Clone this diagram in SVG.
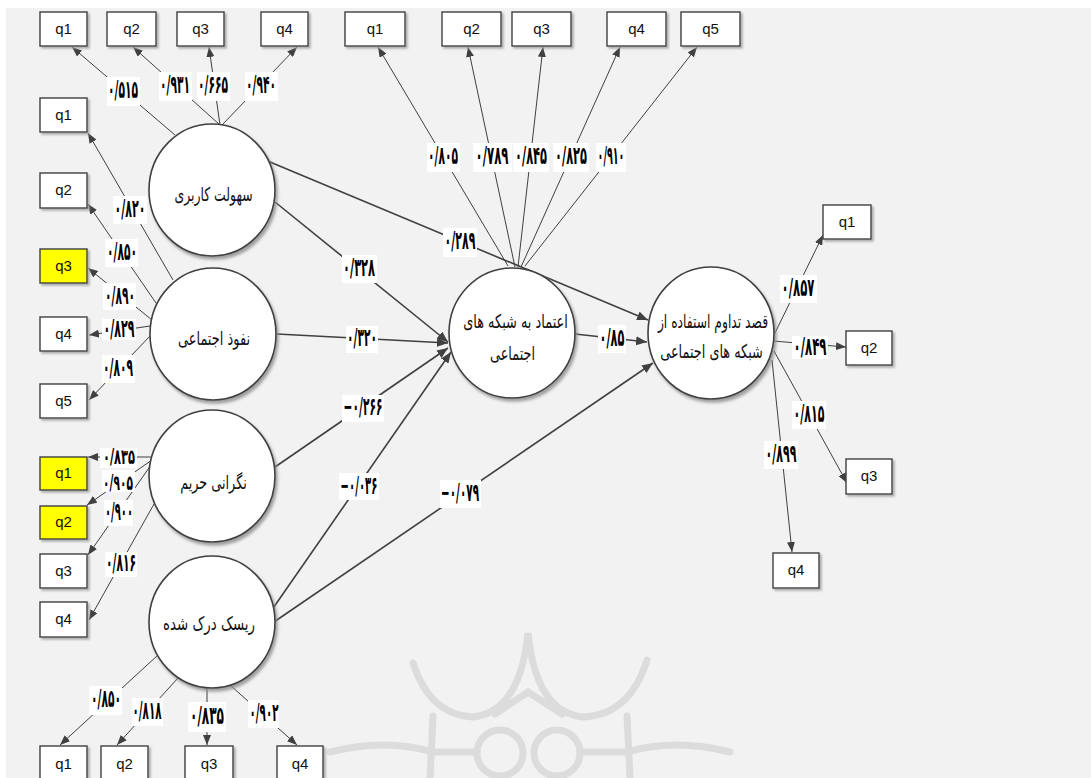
<svg xmlns="http://www.w3.org/2000/svg" width="1091" height="778" viewBox="0 0 1091 778">
<defs>
<style>
.bg{fill:#f2f2f2}
.box rect{fill:#ffffff;stroke:#404040;stroke-width:1.4;filter:url(#sh)}
.box.y rect{fill:#ffff00}
.box text{font-family:"Liberation Sans Narrow","Liberation Sans",sans-serif;font-size:15px;fill:#111;text-anchor:middle}
.lv ellipse{fill:#ffffff;stroke:#404040;stroke-width:1.6;filter:url(#sh2)}
.lv text{font-family:"DejaVu Sans",sans-serif;font-size:19px;fill:#111;text-anchor:middle}
.ind{stroke:#404040;stroke-width:1;fill:none;marker-end:url(#ah)}
.str{stroke:#404040;stroke-width:1.6;fill:none;marker-end:url(#ah2)}
.lb rect{fill:#ffffff}
.lb text{font-family:"DejaVu Sans Condensed","DejaVu Sans",sans-serif;font-weight:bold;font-size:25px;fill:#000;text-anchor:middle;direction:ltr}
.lb text.sm{font-size:21px}
.wm{fill:none;stroke:#dcdcdc;stroke-width:7;stroke-linecap:round}
</style>
<filter id="sh" x="-20%" y="-20%" width="150%" height="160%"><feDropShadow dx="2" dy="2" stdDeviation="1.2" flood-color="#9a9a9a" flood-opacity="0.8"/></filter>
<filter id="sh2" x="-10%" y="-10%" width="130%" height="130%"><feDropShadow dx="2" dy="3" stdDeviation="1.5" flood-color="#8a8a8a" flood-opacity="0.8"/></filter>
<marker id="ah" markerWidth="10" markerHeight="8" refX="10" refY="4" orient="auto" markerUnits="userSpaceOnUse"><path d="M0,0 L10,4 L0,8 z" fill="#404040"/></marker>
<marker id="ah2" markerWidth="11" markerHeight="9" refX="11" refY="4.5" orient="auto" markerUnits="userSpaceOnUse"><path d="M0,0 L11,4.5 L0,9 z" fill="#404040"/></marker>
</defs>
<rect x="0" y="0" width="1091" height="778" fill="#ffffff"/>
<rect class="bg" x="6" y="8" width="1085" height="770"/>
<g id="watermark">
<path class="wm" d="M413,663 Q430,715 473,717 Q520,712 528,633 Q536,712 583,717 Q630,715 647,660"/>
<path class="wm" d="M495,714 L528,692 L562,714"/>
<circle class="wm" cx="500" cy="753" r="23"/>
<circle class="wm" cx="557" cy="753" r="23"/>
<path class="wm" d="M433,716 L430,778 M627,716 L630,778"/>
<path class="wm" d="M330,752 Q385,738 433,752 L477,752 M730,752 Q675,738 627,752 L580,752"/>
</g>
<g id="connectors">
<line class="ind" x1="175" y1="135" x2="72" y2="47"/>
<line class="ind" x1="220" y1="125" x2="133" y2="47"/>
<line class="ind" x1="220" y1="125" x2="209" y2="47"/>
<line class="ind" x1="222" y1="125" x2="297" y2="47"/>
<line class="ind" x1="173" y1="280" x2="88" y2="133"/>
<line class="ind" x1="156" y1="303" x2="88" y2="204"/>
<line class="ind" x1="152" y1="320" x2="88" y2="268"/>
<line class="ind" x1="150" y1="326" x2="89" y2="335"/>
<line class="ind" x1="150" y1="336" x2="89" y2="400"/>
<line class="ind" x1="152" y1="457" x2="88" y2="457"/>
<line class="ind" x1="152" y1="460" x2="87" y2="505"/>
<line class="ind" x1="151" y1="465" x2="88" y2="555"/>
<line class="ind" x1="154" y1="504" x2="89" y2="620"/>
<line class="ind" x1="158" y1="655" x2="60" y2="745"/>
<line class="ind" x1="178" y1="678" x2="117" y2="745"/>
<line class="ind" x1="207" y1="688" x2="207" y2="745"/>
<line class="ind" x1="230" y1="685" x2="297" y2="745"/>
<line class="ind" x1="508" y1="266" x2="378" y2="47"/>
<line class="ind" x1="515" y1="267" x2="468" y2="47"/>
<line class="ind" x1="518" y1="267" x2="543" y2="47"/>
<line class="ind" x1="521" y1="267" x2="620" y2="47"/>
<line class="ind" x1="525" y1="266" x2="697" y2="47"/>
<line class="ind" x1="773" y1="337" x2="823" y2="235"/>
<line class="ind" x1="773" y1="341" x2="846" y2="347"/>
<line class="ind" x1="774" y1="351" x2="847" y2="483"/>
<line class="ind" x1="772" y1="360" x2="792" y2="552"/>
<line class="str" x1="270" y1="162" x2="648" y2="320"/>
<line class="str" x1="275" y1="202" x2="448" y2="342"/>
<line class="str" x1="277" y1="334" x2="448" y2="343"/>
<line class="str" x1="275" y1="467" x2="448" y2="348"/>
<line class="str" x1="269" y1="614" x2="451" y2="352"/>
<line class="str" x1="271" y1="624" x2="653" y2="363"/>
<line class="str" x1="575" y1="334" x2="647" y2="342"/>
<g class="lb"><rect x="107" y="77" width="33" height="29"/><text transform="translate(123,98) scale(0.4,1)" textLength="75" lengthAdjust="spacingAndGlyphs">۰/۵۱۵</text></g>
<g class="lb"><rect x="159" y="72" width="33" height="29"/><text transform="translate(175,93) scale(0.4,1)" textLength="75" lengthAdjust="spacingAndGlyphs">۰/۹۳۱</text></g>
<g class="lb"><rect x="197" y="72" width="33" height="29"/><text transform="translate(213,93) scale(0.4,1)" textLength="75" lengthAdjust="spacingAndGlyphs">۰/۶۶۵</text></g>
<g class="lb"><rect x="245" y="72" width="33" height="29"/><text transform="translate(261,93) scale(0.4,1)" textLength="75" lengthAdjust="spacingAndGlyphs">۰/۹۴۰</text></g>
<g class="lb"><rect x="113" y="196" width="34" height="28"/><text transform="translate(130,217) scale(0.4,1)" textLength="77" lengthAdjust="spacingAndGlyphs">۰/۸۲۰</text></g>
<g class="lb"><rect x="105" y="239" width="33" height="28"/><text transform="translate(122,260) scale(0.4,1)" textLength="75" lengthAdjust="spacingAndGlyphs">۰/۸۵۰</text></g>
<g class="lb"><rect x="103" y="283" width="33" height="27"/><text transform="translate(120,304) scale(0.4,1)" textLength="75" lengthAdjust="spacingAndGlyphs">۰/۸۹۰</text></g>
<g class="lb"><rect x="102" y="319" width="34" height="21"/><text transform="translate(119,337) scale(0.4,1)" textLength="77" lengthAdjust="spacingAndGlyphs">۰/۸۲۹</text></g>
<g class="lb"><rect x="102" y="355" width="33" height="28"/><text transform="translate(118,376) scale(0.4,1)" textLength="75" lengthAdjust="spacingAndGlyphs">۰/۸۰۹</text></g>
<g class="lb"><rect x="100" y="448" width="37" height="20"/><text class="sm" transform="translate(119,464) scale(0.48,1)" textLength="67" lengthAdjust="spacingAndGlyphs">۰/۸۳۵</text></g>
<g class="lb"><rect x="102" y="470" width="33" height="22"/><text class="sm" transform="translate(118,490) scale(0.48,1)" textLength="62" lengthAdjust="spacingAndGlyphs">۰/۹۰۵</text></g>
<g class="lb"><rect x="104" y="500" width="29" height="26"/><text transform="translate(119,520) scale(0.4,1)" textLength="70" lengthAdjust="spacingAndGlyphs">۰/۹۰۰</text></g>
<g class="lb"><rect x="105" y="552" width="32" height="25"/><text transform="translate(121,571) scale(0.4,1)" textLength="75" lengthAdjust="spacingAndGlyphs">۰/۸۱۶</text></g>
<g class="lb"><rect x="89" y="686" width="33" height="29"/><text transform="translate(106,707) scale(0.4,1)" textLength="75" lengthAdjust="spacingAndGlyphs">۰/۸۵۰</text></g>
<g class="lb"><rect x="132" y="698" width="31" height="28"/><text transform="translate(147,719) scale(0.4,1)" textLength="72" lengthAdjust="spacingAndGlyphs">۰/۸۱۸</text></g>
<g class="lb"><rect x="188" y="702" width="38" height="30"/><text transform="translate(207,724) scale(0.4,1)" textLength="85" lengthAdjust="spacingAndGlyphs">۰/۸۳۵</text></g>
<g class="lb"><rect x="248" y="700" width="31" height="28"/><text transform="translate(264,721) scale(0.4,1)" textLength="72" lengthAdjust="spacingAndGlyphs">۰/۹۰۲</text></g>
<g class="lb"><rect x="427" y="143" width="33" height="29"/><text transform="translate(443,164) scale(0.4,1)" textLength="75" lengthAdjust="spacingAndGlyphs">۰/۸۰۵</text></g>
<g class="lb"><rect x="473" y="143" width="39" height="29"/><text transform="translate(492,164) scale(0.4,1)" textLength="82" lengthAdjust="spacingAndGlyphs">۰/۷۸۹</text></g>
<g class="lb"><rect x="513" y="143" width="36" height="29"/><text transform="translate(531,164) scale(0.4,1)" textLength="80" lengthAdjust="spacingAndGlyphs">۰/۸۴۵</text></g>
<g class="lb"><rect x="553" y="143" width="36" height="29"/><text transform="translate(571,164) scale(0.4,1)" textLength="80" lengthAdjust="spacingAndGlyphs">۰/۸۲۵</text></g>
<g class="lb"><rect x="596" y="143" width="30" height="29"/><text transform="translate(611,164) scale(0.4,1)" textLength="67" lengthAdjust="spacingAndGlyphs">۰/۹۱۰</text></g>
<g class="lb"><rect x="443" y="228" width="34" height="29"/><text transform="translate(460,249) scale(0.4,1)" textLength="77" lengthAdjust="spacingAndGlyphs">۰/۲۸۹</text></g>
<g class="lb"><rect x="342" y="255" width="35" height="28"/><text transform="translate(359,276) scale(0.4,1)" textLength="80" lengthAdjust="spacingAndGlyphs">۰/۳۲۸</text></g>
<g class="lb"><rect x="346" y="326" width="32" height="27"/><text transform="translate(362,346) scale(0.4,1)" textLength="75" lengthAdjust="spacingAndGlyphs">۰/۳۲۰</text></g>
<g class="lb"><rect x="342" y="395" width="42" height="27"/><text transform="translate(363,415) scale(0.4,1)" textLength="97" lengthAdjust="spacingAndGlyphs">−۰/۲۶۶</text></g>
<g class="lb"><rect x="339" y="473" width="40" height="27"/><text transform="translate(359,494) scale(0.4,1)" textLength="92" lengthAdjust="spacingAndGlyphs">−۰/۰۳۶</text></g>
<g class="lb"><rect x="440" y="480" width="41" height="28"/><text transform="translate(460,501) scale(0.4,1)" textLength="95" lengthAdjust="spacingAndGlyphs">−۰/۰۷۹</text></g>
<g class="lb"><rect x="598" y="325" width="28" height="28"/><text transform="translate(612,346) scale(0.4,1)" textLength="62" lengthAdjust="spacingAndGlyphs">۰/۸۵</text></g>
<g class="lb"><rect x="780" y="275" width="37" height="28"/><text transform="translate(798,296) scale(0.4,1)" textLength="82" lengthAdjust="spacingAndGlyphs">۰/۸۵۷</text></g>
<g class="lb"><rect x="792" y="336" width="36" height="23"/><text transform="translate(810,355) scale(0.4,1)" textLength="82" lengthAdjust="spacingAndGlyphs">۰/۸۴۹</text></g>
<g class="lb"><rect x="792" y="401" width="34" height="28"/><text transform="translate(809,422) scale(0.4,1)" textLength="77" lengthAdjust="spacingAndGlyphs">۰/۸۱۵</text></g>
<g class="lb"><rect x="764" y="441" width="34" height="28"/><text transform="translate(781,462) scale(0.4,1)" textLength="77" lengthAdjust="spacingAndGlyphs">۰/۸۹۹</text></g>
</g>
<g id="lv-ease" class="lv"><ellipse cx="212" cy="190" rx="63" ry="66"/><text transform="translate(213.5,201) scale(0.68,1)" textLength="115" lengthAdjust="spacingAndGlyphs">سهولت کاربری</text></g>
<g id="lv-social" class="lv"><ellipse cx="213" cy="334" rx="63" ry="66"/><text transform="translate(214,345) scale(0.68,1)" textLength="106" lengthAdjust="spacingAndGlyphs">نفوذ اجتماعی</text></g>
<g id="lv-privacy" class="lv"><ellipse cx="212" cy="476" rx="63" ry="66"/><text transform="translate(213.5,489) scale(0.68,1)" textLength="98" lengthAdjust="spacingAndGlyphs">نگرانی حریم</text></g>
<g id="lv-risk" class="lv"><ellipse cx="212" cy="622" rx="63" ry="66"/><text transform="translate(209,630) scale(0.68,1)" textLength="135" lengthAdjust="spacingAndGlyphs">ریسک درک شده</text></g>
<g id="lv-trust" class="lv"><ellipse cx="512" cy="333" rx="63" ry="65"/><text transform="translate(515.5,328) scale(0.68,1)" textLength="154" lengthAdjust="spacingAndGlyphs">اعتماد به شبکه های</text><text transform="translate(512.5,360) scale(0.68,1)" textLength="66" lengthAdjust="spacingAndGlyphs">اجتماعی</text></g>
<g id="lv-intent" class="lv"><ellipse cx="711" cy="333" rx="63" ry="66"/><text transform="translate(713,328) scale(0.68,1)" textLength="162" lengthAdjust="spacingAndGlyphs">قصد تداوم استفاده از</text><text transform="translate(711.5,358) scale(0.68,1)" textLength="151" lengthAdjust="spacingAndGlyphs">شبکه های اجتماعی</text></g>
<g id="ease-q1" class="box"><rect x="40" y="12" width="47" height="34"/><text x="63.5" y="34">q1</text></g>
<g id="ease-q2" class="box"><rect x="107" y="12" width="49" height="34"/><text x="131.5" y="34">q2</text></g>
<g id="ease-q3" class="box"><rect x="177" y="12" width="47" height="34"/><text x="200.5" y="34">q3</text></g>
<g id="ease-q4" class="box"><rect x="261" y="12" width="47" height="34"/><text x="284.5" y="34">q4</text></g>
<g id="soc-q1" class="box"><rect x="40" y="98" width="47" height="34"/><text x="63.5" y="120">q1</text></g>
<g id="soc-q2" class="box"><rect x="40" y="173" width="47" height="35"/><text x="63.5" y="195">q2</text></g>
<g id="soc-q3" class="box y"><rect x="40" y="249" width="47" height="34"/><text x="63.5" y="271">q3</text></g>
<g id="soc-q4" class="box"><rect x="40" y="317" width="47" height="34"/><text x="63.5" y="339">q4</text></g>
<g id="soc-q5" class="box"><rect x="40" y="384" width="47" height="34"/><text x="63.5" y="406">q5</text></g>
<g id="prv-q1" class="box y"><rect x="40" y="457" width="47" height="33"/><text x="63.5" y="478">q1</text></g>
<g id="prv-q2" class="box y"><rect x="40" y="506" width="47" height="33"/><text x="63.5" y="527">q2</text></g>
<g id="prv-q3" class="box"><rect x="40" y="554" width="47" height="34"/><text x="63.5" y="576">q3</text></g>
<g id="prv-q4" class="box"><rect x="40" y="602" width="47" height="35"/><text x="63.5" y="624">q4</text></g>
<g id="risk-q1" class="box"><rect x="40" y="746" width="47" height="36"/><text x="63.5" y="769">q1</text></g>
<g id="risk-q2" class="box"><rect x="101" y="746" width="47" height="36"/><text x="124.5" y="769">q2</text></g>
<g id="risk-q3" class="box"><rect x="185" y="746" width="48" height="36"/><text x="209" y="769">q3</text></g>
<g id="risk-q4" class="box"><rect x="277" y="746" width="46" height="36"/><text x="300" y="769">q4</text></g>
<g id="tr-q1" class="box"><rect x="345" y="12" width="60" height="34"/><text x="375" y="34">q1</text></g>
<g id="tr-q2" class="box"><rect x="442" y="12" width="59" height="34"/><text x="471.5" y="34">q2</text></g>
<g id="tr-q3" class="box"><rect x="512" y="12" width="59" height="34"/><text x="541.5" y="34">q3</text></g>
<g id="tr-q4" class="box"><rect x="607" y="12" width="59" height="34"/><text x="636.5" y="34">q4</text></g>
<g id="tr-q5" class="box"><rect x="681" y="12" width="59" height="34"/><text x="710.5" y="34">q5</text></g>
<g id="in-q1" class="box"><rect x="823" y="205" width="48" height="34"/><text x="847" y="227">q1</text></g>
<g id="in-q2" class="box"><rect x="846" y="331" width="46" height="34"/><text x="869" y="353">q2</text></g>
<g id="in-q3" class="box"><rect x="846" y="459" width="46" height="35"/><text x="869" y="481">q3</text></g>
<g id="in-q4" class="box"><rect x="773" y="553" width="46" height="35"/><text x="796" y="575">q4</text></g>
</svg>
